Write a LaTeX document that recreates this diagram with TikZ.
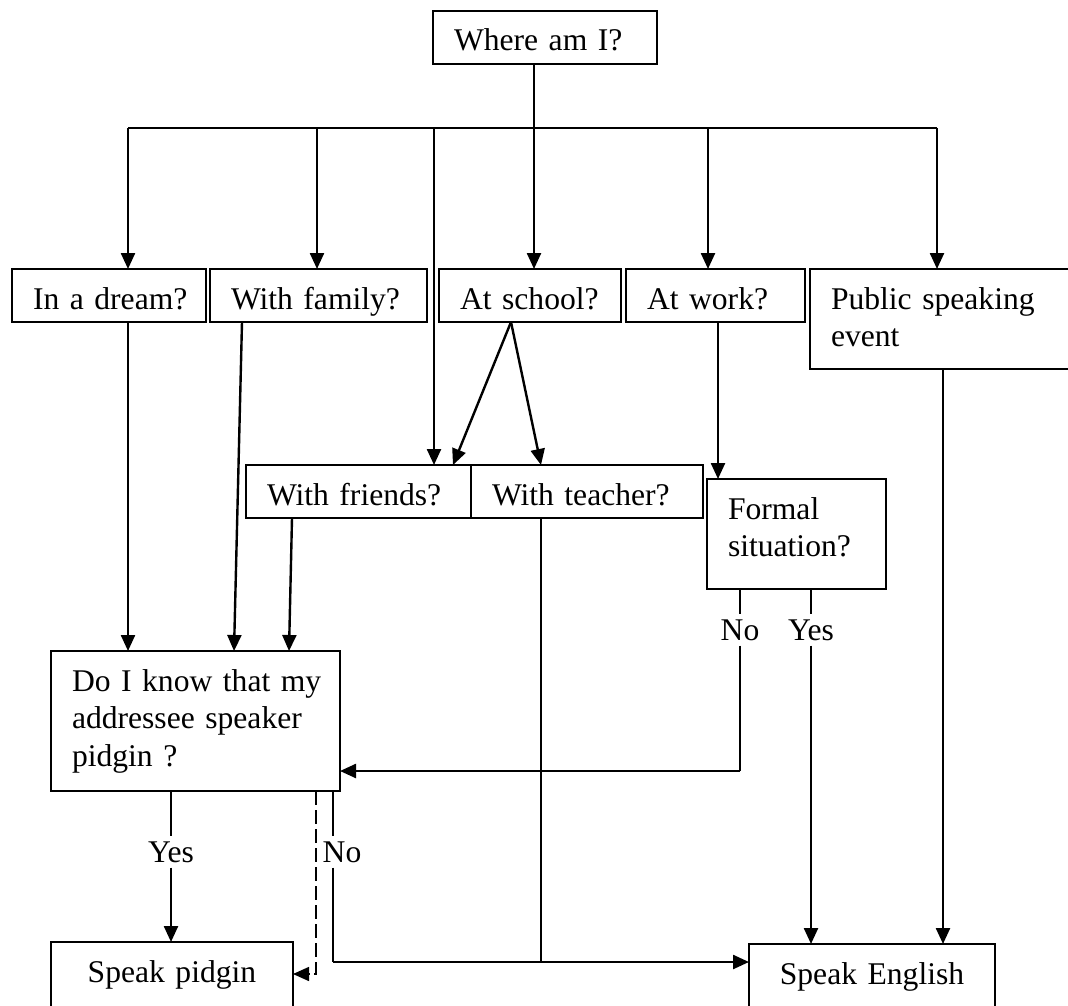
\documentclass[tikz,border=0pt]{standalone}
\usepackage{fontspec}
\setmainfont{Liberation Serif}
\usepackage{tikz}
\usetikzlibrary{arrows.meta,positioning}

\begin{document}
\begin{tikzpicture}[
    x=1pt, y=-1pt,
    every node/.style={font=\fontsize{31.6pt}{37.5pt}\selectfont},
    box/.style={rectangle, draw, line width=2.2pt, anchor=north west, outer sep=0pt, inner xsep=21pt, inner ysep=12pt, align=left, text height=28pt, text depth=1pt},
    answer/.style={anchor=base, inner sep=5pt},
    line/.style={line width=2.4pt},
    thinline/.style={line width=1.5pt},
    arrow/.style={-{Triangle[length=16pt, width=14pt]}, line width=2.4pt}
]
    \useasboundingbox (0,0) rectangle (1068,1006);

    % Top question
    \node[box, text width=182pt] (where) at (433,11) {Where am I?};

    % Places
    \node[box, text width=152pt] (dream) at (12,269) {\mbox{In a dream?}};
    \node[box, text width=175pt, right=4pt of dream] (family) {\mbox{With family?}};
    \node[box, text width=140pt, right=12pt of family] (school) {\mbox{At school?}};
    \node[box, text width=137pt, right=5pt of school] (work) {At work?};
    \node[box, text width=220pt, text depth=48pt] (public) at ([xshift=5pt]work.north east) {Public speaking\\event};

    % People around
    \node[box, text width=183pt] (friends) at (246,465) {\mbox{With friends?}};
    \node[box, text width=190pt, right=0pt of friends] (teacher) {\mbox{With teacher?}};
    \node[box, text width=137pt, text depth=58pt] (formal) at (707,479) {Formal\\situation?};

    % Addressee question
    \node[box, text width=247pt, text depth=88pt] (know) at (51,651) {\mbox{Do I know that my}\\\mbox{addressee speaker}\\pidgin ?};

    % Outcomes
    \node[box, text width=200pt, text depth=16pt, align=center] (pidgin) at (51,942) {Speak pidgin};
    \node[box, text width=204pt, text depth=16pt, align=center] (english) at (749,944) {Speak English};

    % Answers
    \node[answer] (fno) at (740,640) {No};
    \node[answer] (fyes) at (811,640) {Yes};
    \node[answer] (kyes) at (171,862) {Yes};
    \node[answer] (kno) at (342,862) {No};

    % Bus and turning points
    \coordinate (bus-dream) at (128,128);
    \coordinate (bus-family) at (317,128);
    \coordinate (bus-friends) at (434,128);
    \coordinate (bus-school) at (534,128);
    \coordinate (bus-work) at (708,128);
    \coordinate (bus-public) at (937,128);
    \coordinate (fno-turn) at (740,771);
    \coordinate (kno-turn) at (333,962);
    \coordinate (junction) at (541,962);
    \coordinate (dash-turn) at (316,974);

    % Arrows - from the top question
    \draw[line] (where.south -| bus-school) -- (bus-school);
    \draw[line] (bus-dream) -- (bus-public);
    \draw[arrow] (bus-dream) -- (bus-dream |- dream.north);
    \draw[arrow] (bus-family) -- (bus-family |- family.north);
    \draw[arrow] (bus-friends) -- (bus-friends |- friends.north);
    \draw[arrow] (bus-school) -- (bus-school |- school.north);
    \draw[arrow] (bus-work) -- (bus-work |- work.north);
    \draw[arrow] (bus-public) -- (bus-public |- public.north);

    % Arrows - from the places
    \draw[arrow] (dream.south -| bus-dream) -- (know.north -| bus-dream);
    \draw[arrow] ([xshift=32pt]family.south west) -- ([xshift=183pt]know.north west);
    \draw[arrow] ([xshift=72pt]school.south west) -- ([xshift=-18pt]friends.north east);
    \draw[arrow] ([xshift=72pt]school.south west) -- ([xshift=70pt]teacher.north west);
    \draw[arrow] ([xshift=46pt]friends.south west) -- ([xshift=238pt]know.north west);
    \draw[arrow] ([xshift=92pt]work.south west) -- ([xshift=11pt]formal.north west);
    \draw[arrow] ([xshift=133pt]public.south west) -- ([xshift=194pt]english.north west);
    \draw[thinline] (teacher.south -| junction) -- (junction);

    % Formal situation answers
    \draw[thinline] (formal.south -| fno) -- (fno.north);
    \draw[thinline] (fno.south) -- (fno-turn);
    \draw[arrow] (fno-turn) -- (fno-turn -| know.east);
    \draw[thinline] (formal.south -| fyes) -- (fyes.north);
    \draw[arrow] (fyes.south) -- (fyes.south |- english.north);

    % Addressee answers
    \draw[thinline] (know.south -| kyes) -- (kyes.north);
    \draw[arrow] (kyes.south) -- (kyes.south |- pidgin.north);
    \draw[thinline] (know.south -| kno-turn) -- (kno.north -| kno-turn);
    \draw[thinline] (kno.south -| kno-turn) -- (kno-turn);
    \draw[arrow] (kno-turn) -- (kno-turn -| english.west);
    \draw[arrow, thinline, dash pattern=on 14pt off 5pt] (know.south -| dash-turn) -- (dash-turn) -- (dash-turn -| pidgin.east);

\end{tikzpicture}
\end{document}
